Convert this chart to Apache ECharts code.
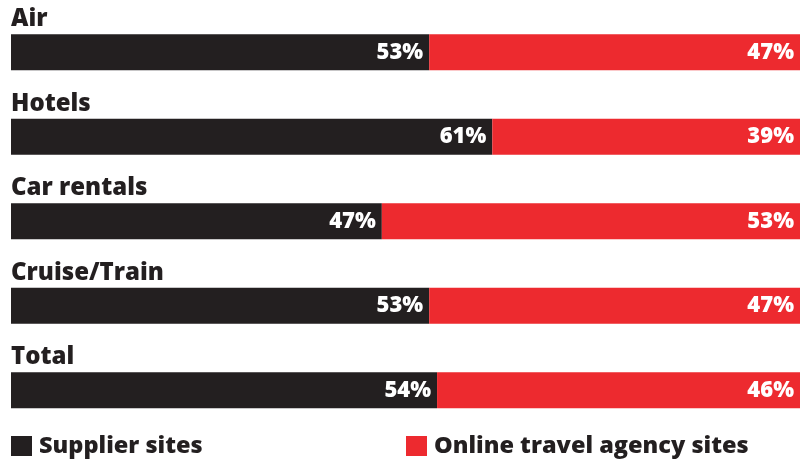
<!DOCTYPE html>
<html>
<head>
<meta charset="utf-8">
<script src="https://cdn.jsdelivr.net/npm/echarts@6/dist/echarts.min.js"></script>
<style>
  html, body { margin: 0; padding: 0; background: #ffffff; }
  #chart { width: 801px; height: 462px; }
</style>
</head>
<body>
<div id="chart"></div>
<script>
// Share of bookings by channel, per travel segment (percent)
const categories = ['Air', 'Hotels', 'Car rentals', 'Cruise/Train', 'Total'];
const supplierSites = [53, 61, 47, 53, 54];
const agencySites = [47, 39, 53, 47, 46];
const seriesNames = ['Supplier sites', 'Online travel agency sites'];

const BLACK = '#231f20';
const RED = '#ed2a2f';
const FONT = '"Open Sans"';

const chart = echarts.init(document.getElementById('chart'), null, { renderer: 'canvas' });

const valueLabel = {
  show: true,
  position: 'insideRight',
  distance: 6,
  color: '#ffffff',
  fontFamily: FONT,
  fontWeight: 800,
  fontSize: 22,
  formatter: p => p.value + '%'
};

const legendBase = {
  top: 434,
  padding: 0,
  itemWidth: 21,
  itemHeight: 20,
  icon: 'rect',
  textStyle: { fontFamily: FONT, fontWeight: 800, fontSize: 23.5, color: BLACK, padding: [0, 0, 0, 2] }
};

chart.setOption({
  animation: false,
  backgroundColor: '#ffffff',
  grid: { left: 11, right: 1, top: 10, bottom: 29.5, containLabel: false },
  legend: [
    Object.assign({}, legendBase, { left: 11, data: [seriesNames[0]] }),
    Object.assign({}, legendBase, { left: 406, data: [seriesNames[1]] })
  ],
  xAxis: {
    type: 'value',
    min: 0,
    max: 100,
    show: false
  },
  yAxis: {
    type: 'category',
    data: categories,
    inverse: true,
    axisLine: { show: false },
    axisTick: { show: false },
    splitLine: { show: false },
    axisLabel: {
      inside: true,
      margin: 0,
      align: 'left',
      verticalAlign: 'bottom',
      padding: [0, 0, 21, 0],
      color: BLACK,
      fontFamily: FONT,
      fontWeight: 800,
      fontSize: 24
    }
  },
  series: [
    {
      name: seriesNames[0],
      type: 'bar',
      stack: 'share',
      barWidth: 36,
      itemStyle: { color: BLACK },
      label: valueLabel,
      data: supplierSites
    },
    {
      name: seriesNames[1],
      type: 'bar',
      stack: 'share',
      barWidth: 36,
      itemStyle: { color: RED },
      label: valueLabel,
      data: agencySites
    }
  ]
});
</script>
</body>
</html>
